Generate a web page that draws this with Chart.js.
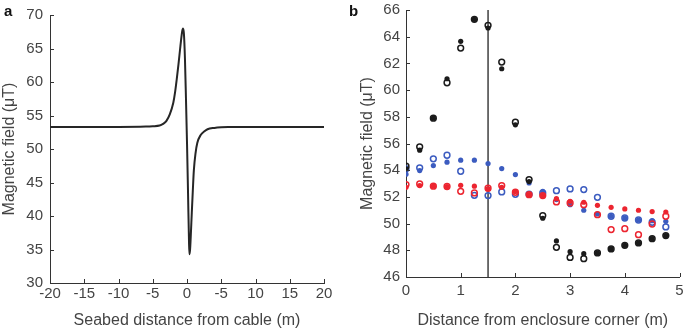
<!DOCTYPE html>
<html><head><meta charset="utf-8">
<script src="https://cdn.jsdelivr.net/npm/chart.js@4"></script>
<style>
body{margin:0;background:#fff;width:685px;height:330px;position:relative;overflow:hidden;font-family:"Liberation Sans",Arial,sans-serif}
#wa{position:absolute;left:0;top:0;width:340px;height:330px}
#wb{position:absolute;left:345px;top:0;width:340px;height:330px}
.lbl{position:absolute;font-weight:bold;font-size:15px;color:#111;line-height:15px}
</style></head><body>
<div id="wa"><canvas id="ca"></canvas></div>
<div id="wb"><canvas id="cb"></canvas></div>
<div class="lbl" style="left:4px;top:3px">a</div>
<div class="lbl" style="left:349px;top:3px">b</div>
<script>
// Panel a: modelled field across the cable
const cableDistance = [-20,-10,-6,-5,-4,-3.5,-3,-2.5,-2,-1.75,-1.5,-1.25,-1,-0.85,-0.7,-0.58,-0.45,-0.3,-0.15,0,0.15,0.3,0.36,0.45,0.55,0.7,0.85,1,1.25,1.5,2,2.5,3,4,5,6,10,20];
const cableField    = [53.3,53.3,53.35,53.4,53.5,53.75,54.2,55.2,56.9,58.4,60.4,62.6,65.0,66.4,67.6,68.0,67.2,63.5,57.5,51.0,43.5,35.8,34.3,35.0,37.0,40.5,43.8,46.8,49.4,50.9,52.1,52.6,52.95,53.15,53.25,53.3,53.3,53.3];
const xTickLabelsA  = ['-20','-15','-10','-5','0','-5','10','15','20'];

// Panel b: measured field vs distance from enclosure corner
const cornerDistance = [0,0.25,0.5,0.75,1,1.25,1.5,1.75,2,2.25,2.5,2.75,3,3.25,3.5,3.75,4,4.25,4.5,4.75];
const blackFilled = [54.1,55.5,57.9,60.85,63.65,65.3,64.65,61.6,57.4,53.15,50.4,48.7,47.9,47.75,47.8,48.1,48.37,48.55,48.87,49.1];
const blackOpen   = [54.3,55.75,57.9,60.55,63.15,65.3,64.85,62.1,57.6,53.3,50.6,48.22,47.47,47.37,47.8,48.1,48.37,48.55,48.87,49.1];
const blueFilled  = [53.7,53.97,54.35,54.6,54.75,54.75,54.5,54.12,53.67,53.05,52.42,51.8,51.42,51.0,50.72,50.55,50.42,50.27,50.22,50.17];
const blueOpen    = [54.1,54.18,54.85,55.12,53.92,52.12,52.1,52.37,52.2,52.2,52.3,52.47,52.6,52.55,51.97,50.55,50.42,50.27,50.1,49.75];
const redFilled   = [52.72,52.85,52.8,52.78,52.87,52.8,52.6,52.72,52.4,52.17,52.1,51.87,51.67,51.6,51.37,51.22,51.1,51.0,50.9,50.87];
const redOpen     = [52.92,52.97,52.8,52.78,52.42,52.3,52.65,52.85,52.35,52.17,52.1,51.62,51.55,51.42,50.67,49.55,49.62,49.17,49.97,50.55];
const cornerMark  = 1.5;

const txt = '#444';
const axisCol = '#333';
const fam = '"Liberation Sans", Arial, sans-serif';

const inwardTicks = {
  id:'inwardTicks',
  afterDraw(chart){
    const {ctx, chartArea:a, scales:{x,y}} = chart;
    ctx.save();
    ctx.strokeStyle = axisCol; ctx.lineWidth = 1;
    ctx.beginPath();
    x.ticks.forEach(t=>{const px=Math.round(x.getPixelForValue(t.value))+0.5; ctx.moveTo(px,a.bottom); ctx.lineTo(px,a.bottom-4);});
    y.ticks.forEach(t=>{const py=Math.round(y.getPixelForValue(t.value))+0.5; ctx.moveTo(a.left,py); ctx.lineTo(a.left+4,py);});
    ctx.stroke();
    ctx.restore();
  }
};

function axisCommon(){
  return {
    grid:{display:true, drawOnChartArea:false, drawTicks:false},
    border:{display:true, color:axisCol, width:1}
  };
}

new Chart(document.getElementById('ca'), {
  type:'line',
  data:{datasets:[{
    data: cableDistance.map((x,i)=>({x:x, y:cableField[i]})),
    borderColor:'#262626', borderWidth:2, pointRadius:0, fill:false,
    cubicInterpolationMode:'monotone'
  }]},
  options:{
    responsive:true, maintainAspectRatio:false, animation:false, events:[],
    plugins:{legend:{display:false}, tooltip:{enabled:false}},
    layout:{padding:{top:15, right:16, left:0, bottom:0}},
    scales:{
      x:Object.assign(axisCommon(), {
        type:'linear', min:-20, max:20,
        ticks:{stepSize:5, autoSkip:false, maxRotation:0, padding:2, color:txt, font:{family:fam, size:15},
          callback:(v,i)=>xTickLabelsA[i]},
        title:{display:true, text:'Seabed distance from cable (m)', color:txt, font:{family:fam, size:16}, padding:{top:0,bottom:0}},
        afterFit(s){ s.height = 47; s.paddingLeft = 0; s.paddingRight = 0; }
      }),
      y:Object.assign(axisCommon(), {
        type:'linear', min:30, max:70,
        ticks:{stepSize:5, padding:7, color:txt, font:{family:fam, size:15}},
        title:{display:true, text:'Magnetic field (μT)', color:txt, font:{family:fam, size:16}, padding:{top:0,bottom:0}},
        afterFit(s){ s.width = 50; s.paddingTop = 0; s.paddingBottom = 0; }
      })
    }
  },
  plugins:[inwardTicks]
});

function pts(vals){ return cornerDistance.map((x,i)=>({x:x, y:vals[i]})); }
const BLK='#1b1b1b', BLU='#3c5cc0', RED='#ec2530';
function openSet(vals,c){ return {type:'scatter', data:pts(vals), pointRadius:2.9, pointBorderWidth:1.5, borderColor:c, backgroundColor:'rgba(255,255,255,0)', pointBackgroundColor:'rgba(255,255,255,0)', pointBorderColor:c}; }
function filledSet(vals,c){ return {type:'scatter', data:pts(vals), pointRadius:2.6, pointBorderWidth:0, borderColor:c, backgroundColor:c, pointBackgroundColor:c}; }

new Chart(document.getElementById('cb'), {
  type:'scatter',
  data:{datasets:[
    openSet(blackOpen,BLK), filledSet(blackFilled,BLK),
    openSet(redOpen,RED), filledSet(redFilled,RED),
    openSet(blueOpen,BLU), filledSet(blueFilled,BLU),
    {type:'line', data:[{x:cornerMark,y:46},{x:cornerMark,y:66}], borderColor:'#222', borderWidth:1.3, pointRadius:0, fill:false}
  ]},
  options:{
    responsive:true, maintainAspectRatio:false, animation:false, events:[],
    plugins:{legend:{display:false}, tooltip:{enabled:false}},
    layout:{padding:{top:10, right:4, left:0, bottom:0}},
    scales:{
      x:Object.assign(axisCommon(), {
        type:'linear', min:0, max:5,
        ticks:{stepSize:1, autoSkip:false, maxRotation:0, padding:5, color:txt, font:{family:fam, size:15}},
        title:{display:true, text:'Distance from enclosure corner (m)', color:txt, font:{family:fam, size:16}, padding:{top:0,bottom:0}},
        afterFit(s){ s.height = 53; s.paddingLeft = 0; s.paddingRight = 0; }
      }),
      y:Object.assign(axisCommon(), {
        type:'linear', min:46, max:66,
        ticks:{stepSize:2, padding:6, color:txt, font:{family:fam, size:15}},
        title:{display:true, text:'Magnetic field (μT)', color:txt, font:{family:fam, size:16}, padding:{top:13,bottom:0}},
        afterFit(s){ s.width = 61; s.paddingTop = 0; s.paddingBottom = 0; }
      })
    }
  },
  plugins:[inwardTicks]
});
</script>
</body></html>
